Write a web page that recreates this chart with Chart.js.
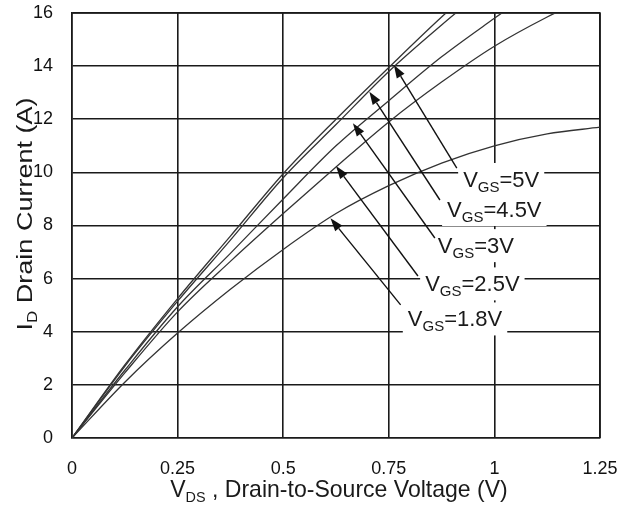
<!DOCTYPE html>
<html>
<head>
<meta charset="utf-8">
<script src="https://cdn.jsdelivr.net/npm/chart.js@4.4.1/dist/chart.umd.min.js"></script>
<style>
  html, body { margin: 0; padding: 0; background: #fff; }
  #wrap { width: 620px; height: 505px; position: relative; }
</style>
</head>
<body>
<div id="wrap"><canvas id="c"></canvas></div>
<script>
// ---- data ----
const vds = [0, 0.125, 0.25, 0.375, 0.5, 0.625, 0.75, 0.875, 1.0, 1.125, 1.25];
const idVgs5  = [0, 2.75, 5.25, 7.6, 9.95, 12.0, 13.95, 15.85, 17.6, null, null];
const idVgs45 = [0, 2.7, 5.15, 7.45, 9.8, 11.8, 13.8, 15.55, 17.2, null, null];
const idVgs3  = [0, 2.55, 4.94, 6.95, 9.0, 11.0, 12.7, 14.35, 15.8, 17.2, null];
const idVgs25 = [0, 2.45, 4.75, 6.65, 8.45, 10.2, 11.9, 13.4, 14.75, 15.85, 16.8];
const idVgs18 = [0, 2.1, 3.95, 5.6, 7.1, 8.45, 9.5, 10.35, 11.0, 11.45, 11.7];

const xTickLabels = ['0', '0.25', '0.5', '0.75', '1', '1.25'];
const yTickLabels = ['0', '2', '4', '6', '8', '10', '12', '14', '16'];

// annotation labels (V_GS values) and their arrows, in data coordinates
const gsValues  = ['5V', '4.5V', '3V', '2.5V', '1.8V'];
const labelX    = [0.926, 0.888, 0.866, 0.836, 0.795];
const labelY    = [9.45, 8.32, 6.96, 5.52, 4.20];
const arrowTailX = [0.911, 0.871, 0.859, 0.819, 0.778];
const arrowTailY = [10.16, 8.96, 7.53, 6.10, 5.01];
const arrowTipX  = [0.762, 0.704, 0.665, 0.625, 0.612];
const arrowTipY  = [14.04, 13.04, 11.85, 10.24, 8.27];

const FONT = "'Liberation Sans', Arial, Helvetica, sans-serif";

function series(vals) {
  return vds.map((v, i) => ({ x: v, y: vals[i] }));
}

function richWidth(ctx, parts, size, subSize) {
  let w = 0;
  for (const p of parts) {
    ctx.font = (p.sub ? subSize : size) + 'px ' + FONT;
    w += ctx.measureText(p.t).width;
  }
  return w;
}

function drawRich(ctx, parts, size, subSize, subDy, align) {
  const w = richWidth(ctx, parts, size, subSize);
  let cx = align === 'center' ? -w / 2 : 0;
  ctx.textBaseline = 'alphabetic';
  ctx.textAlign = 'left';
  for (const p of parts) {
    ctx.font = (p.sub ? subSize : size) + 'px ' + FONT;
    ctx.fillText(p.t, cx, p.sub ? subDy : 0);
    cx += ctx.measureText(p.t).width;
  }
  return w;
}

const overlay = {
  id: 'overlay',
  afterDatasetsDraw(chart) {
    const ctx = chart.ctx;
    const xs = chart.scales.x, ys = chart.scales.y;
    ctx.save();
    // label backgrounds
    const labParts = gsValues.map(v => [{ t: 'V' }, { t: 'GS', sub: true }, { t: '=' + v }]);
    labParts.forEach((parts, i) => {
      const px = xs.getPixelForValue(labelX[i]);
      const py = ys.getPixelForValue(labelY[i]);
      const w = richWidth(ctx, parts, 22, 15);
      ctx.fillStyle = '#fff';
      ctx.fillRect(px - 5, py - 24, w + 10, 33);
    });
    // arrows
    ctx.strokeStyle = '#111';
    ctx.fillStyle = '#111';
    ctx.lineWidth = 1.4;
    for (let i = 0; i < gsValues.length; i++) {
      const tx = xs.getPixelForValue(arrowTailX[i]), ty = ys.getPixelForValue(arrowTailY[i]);
      const hx = xs.getPixelForValue(arrowTipX[i]),  hy = ys.getPixelForValue(arrowTipY[i]);
      const ang = Math.atan2(hy - ty, hx - tx);
      const L = 13, W = 4.5;
      const bx = hx - L * Math.cos(ang), by = hy - L * Math.sin(ang);
      ctx.beginPath();
      ctx.moveTo(tx, ty);
      ctx.lineTo(bx, by);
      ctx.stroke();
      ctx.beginPath();
      ctx.moveTo(hx, hy);
      ctx.lineTo(bx + W * Math.sin(ang), by - W * Math.cos(ang));
      ctx.lineTo(bx - W * Math.sin(ang), by + W * Math.cos(ang));
      ctx.closePath();
      ctx.fill();
    }
    // label text
    ctx.fillStyle = '#1a1a1a';
    labParts.forEach((parts, i) => {
      const px = xs.getPixelForValue(labelX[i]);
      const py = ys.getPixelForValue(labelY[i]);
      ctx.save();
      ctx.translate(px, py);
      drawRich(ctx, parts, 22, 15, 5, 'left');
      ctx.restore();
    });
    // x axis title
    ctx.save();
    ctx.translate((xs.left + xs.right) / 2 + 3, 497);
    ctx.scale(0.96, 1);
    drawRich(ctx, [{ t: 'V' }, { t: 'DS', sub: true }, { t: ' , Drain-to-Source Voltage (V)' }], 24, 15, 5, 'center');
    ctx.restore();
    // y axis title
    ctx.save();
    ctx.translate(32, 214);
    ctx.rotate(-Math.PI / 2);
    ctx.scale(1, 0.83);
    drawRich(ctx, [{ t: 'I' }, { t: 'D', sub: true }, { t: ' Drain Current (A)' }], 27, 17, 6, 'center');
    ctx.restore();
    ctx.restore();
  }
};

const lineStyle = {
  borderColor: '#333',
  borderWidth: 1.3,
  pointRadius: 0,
  fill: false,
  cubicInterpolationMode: 'monotone',
  spanGaps: false
};

const canvas = document.getElementById('c');
canvas.width = 620; canvas.height = 505;

new Chart(canvas, {
  type: 'line',
  data: {
    datasets: [
      Object.assign({ label: 'VGS=5V',   data: series(idVgs5)  }, lineStyle),
      Object.assign({ label: 'VGS=4.5V', data: series(idVgs45) }, lineStyle),
      Object.assign({ label: 'VGS=3V',   data: series(idVgs3)  }, lineStyle),
      Object.assign({ label: 'VGS=2.5V', data: series(idVgs25) }, lineStyle),
      Object.assign({ label: 'VGS=1.8V', data: series(idVgs18) }, lineStyle)
    ]
  },
  options: {
    responsive: false,
    animation: false,
    devicePixelRatio: 1,
    layout: { padding: { top: 13, right: 20, left: 0, bottom: 0 } },
    plugins: { legend: { display: false }, tooltip: { enabled: false } },
    scales: {
      x: {
        type: 'linear',
        min: 0, max: 1.25,
        ticks: {
          stepSize: 0.25,
          padding: 20,
          color: '#111',
          font: { family: FONT, size: 18 },
          maxRotation: 0,
          callback: (v, i) => xTickLabels[i]
        },
        grid: { color: '#1a1a1a', lineWidth: 1.6, drawTicks: false },
        border: { display: true, color: '#1a1a1a', width: 1.6 },
        afterFit: s => { s.height = 67; s.paddingLeft = 0; s.paddingRight = 0; }
      },
      y: {
        type: 'linear',
        min: 0, max: 16,
        ticks: {
          stepSize: 2,
          padding: 19,
          color: '#111',
          font: { family: FONT, size: 18 },
          callback: (v, i) => yTickLabels[i]
        },
        grid: { color: '#1a1a1a', lineWidth: 1.6, drawTicks: false },
        border: { display: true, color: '#1a1a1a', width: 1.6 },
        afterFit: s => { s.width = 72; s.paddingTop = 0; s.paddingBottom = 0; }
      }
    }
  },
  plugins: [overlay, {
    id: 'rightTopBorder',
    beforeDatasetsDraw(chart) {
      const { ctx, chartArea: a } = chart;
      ctx.save();
      ctx.strokeStyle = '#1a1a1a';
      ctx.lineWidth = 1.6;
      ctx.beginPath();
      ctx.moveTo(a.left, a.top); ctx.lineTo(a.right, a.top); ctx.lineTo(a.right, a.bottom);
      ctx.stroke();
      ctx.restore();
    }
  }]
});
</script>
</body>
</html>
